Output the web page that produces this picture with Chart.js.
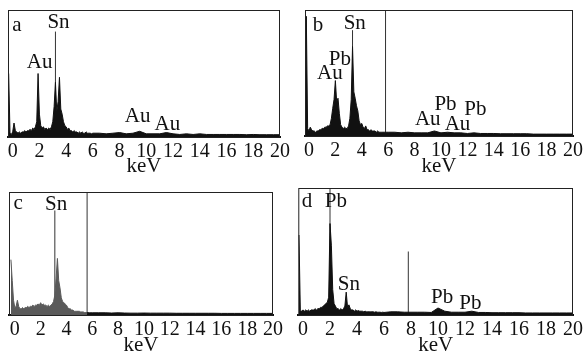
<!DOCTYPE html>
<html><head><meta charset="utf-8">
<script src="https://cdn.jsdelivr.net/npm/chart.js@4.4.0/dist/chart.umd.min.js"></script>
<style>
body{margin:0;background:#fff;width:586px;height:358px;position:relative;overflow:hidden}
canvas{position:absolute}
</style></head><body>
<canvas id="ca" width="293" height="179" style="left:0;top:0"></canvas>
<canvas id="cb" width="291" height="179" style="left:295px;top:0"></canvas>
<canvas id="cc" width="293" height="179" style="left:0;top:179px"></canvas>
<canvas id="cd" width="291" height="179" style="left:295px;top:179px"></canvas>
<script>
// energy grid (keV), shared by the four spectra
const keV=[-0.3,-0.2,-0.1,0,0.1,0.2,0.3,0.4,0.5,0.6,0.7,0.8,0.9,1,1.1,1.2,1.3,1.4,1.5,1.6,1.7,1.8,1.9,2,2.1,2.2,2.3,2.4,2.5,2.6,2.7,2.8,2.9,3,3.1,3.2,3.3,3.4,3.5,3.6,3.7,3.8,3.9,4,4.1,4.2,4.3,4.4,4.5,4.6,4.7,4.8,4.9,5,5.1,5.2,5.3,5.4,5.5,5.6,5.7,5.8,5.9,6,6.5,7,7.5,8,8.5,9,9.5,10,10.5,11,11.5,12,12.5,13,13.5,14,14.5,15,15.5,16,16.5,17,17.5,18,18.5,19,19.5,20];
const tickKeV=[0,2,4,6,8,10,12,14,16,18,20];

// counts, % of full scale
const countsA=[50,3,2, 4,11,5,4,3,4,3,4,4,5, 4,5,5,6,5,7,6,8,12,50, 18,9,7,8,6,7,6,7,6,8, 12,24,43,20,28,47,22,18,12,9, 8,6,7,5,5,4,5,4,4,3, 4,3,4,3,3,4,3,3,3,2.5, 3,
 3,2.5,3,3.5,2.5,3,4.5,2.5,2.5,2.5,3.5,2.5,2,2.5,2,2.5,2,2,2,2,2,2,1.8,2,1.8,1.8,1.8,1.8];
const countsB=[3,95,6, 4,7,5,4,4,3,4,4,5,5, 6,6,7,7,8,8,9,14,22,29, 44,27,30,18,9,7,6,7,6,6, 8,14,29,71,35,30,24,20,12,9, 10,7,6,8,5,5,4,5,4,4, 4,3,4,3,3,3,3,3,3,3, 3,
 3,2.5,3,2.5,2.5,2.5,4,2.5,3,2.5,2.5,2,2.5,2,2,2,1.8,1.8,1.8,1.8,1.8,1.5,1.5,1.5,1.5,1.5,1.5,1.5];
const countsC=[45,28,12, 6,7,12,7,5,5,6,5,6,6, 7,6,7,7,8,7,8,8,9,8, 10,8,9,8,8,7,8,7,8,9, 11,16,30,46,28,22,14,11,10,9, 8,6,5,5,4,4,3,3,3,3, 3,2.5,2.5,2.5,2,2,2,2,1.8,1.8, 1.8,
 1.8,1.8,1.6,1.8,1.6,1.5,1.5,1.6,1.5,1.5,1.5,1.5,1.4,1.4,1.4,1.4,1.4,1.4,1.4,1.3,1.3,1.3,1.3,1.3,1.3,1.3,1.3,1.3];
const countsD=[63,4,3, 4,3,4,3,4,3,4,4,4,5, 4,5,5,6,6,7,8,9,10,14, 72,55,20,9,7,5,5,4,5,4, 5,7,18,6,8,5,4,4,3,4, 3,3.5,3,3,3,2.5,3,2.5,2.5,2.5, 2.5,2.5,2.5,2.2,2.5,2.2,2.2,2.2,2,2.2, 2,
 2.5,2.5,2.2,2.2,2.2,2.2,2,5.5,3,2.2,2.2,2.2,3,2,2,1.8,1.8,1.8,1.8,1.8,1.6,1.6,1.6,1.6,1.6,1.6,1.6,1.6];

// vertical marker lines
const linesA=[3.2], linesTopA=[83];
const linesB=[3.3,5.8], linesTopB=[84,100];
const linesC=[3.1,5.6], linesTopC=[85,100];
const linesD=[2.0,7.8], linesTopD=[100,50];

// peak labels
const labA=['a','Sn','Au','Au','Au'], labXA=[0.32,3.43,2.02,9.35,11.57], labYA=[88,90,59,16,10];
const labB=['b','Sn','Pb','Au','Pb','Pb','Au','Au'], labXB=[0.68,3.47,2.34,1.58,10.34,12.6,9.0,11.25], labYB=[88,89,61,50,25,21,13,9.5];
const labC=['c','Sn'], labXC=[0.25,3.2], labYC=[91,90];
const labD=['d','Pb','Sn','Pb','Pb'], labXD=[0.3,2.44,3.4,10.3,12.4], labYD=[89,89,24,14,9];

const serif='"Liberation Serif","DejaVu Serif",serif';
const ink='#111';

const framePlugin={id:'frame',afterDatasetsDraw(c){
 const a=c.chartArea,ctx=c.ctx;ctx.save();ctx.strokeStyle='#222';ctx.lineWidth=1;
 ctx.strokeRect(a.left+0.5,a.top+0.5,a.right-a.left-1,a.bottom-a.top);ctx.restore();}};
const textPlugin={id:'txt',afterDatasetsDraw(c,args,o){
 const ctx=c.ctx,x=c.scales.x,y=c.scales.y;ctx.save();
 ctx.font='21px '+serif;ctx.fillStyle=ink;ctx.textAlign='center';ctx.textBaseline='middle';
 o.text.forEach((t,i)=>ctx.fillText(t,x.getPixelForValue(o.xs[i]),y.getPixelForValue(o.ys[i])));
 ctx.restore();}};

function panel(id,counts,lines,tops,text,xs,ys,pad,xmin,axisH,col,split){
 const pts=keV.map((x,i)=>({x:x,y:counts[i]}));
 const ds=[];
 if(split){
  ds.push({data:pts.filter(p=>p.x<=split),borderColor:col,backgroundColor:col,fill:'origin',borderWidth:1,pointRadius:0});
  ds.push({data:pts.filter(p=>p.x>=split),borderColor:'#111',backgroundColor:'#111',fill:'origin',borderWidth:1,pointRadius:0});
 } else ds.push({data:pts,borderColor:col,backgroundColor:col,fill:'origin',borderWidth:1,pointRadius:0});
 lines.forEach((l,i)=>ds.push({data:[{x:l,y:0},{x:l,y:tops[i]}],borderColor:'#333',borderWidth:1,pointRadius:0}));
 new Chart(document.getElementById(id),{type:'line',data:{datasets:ds},
  options:{responsive:false,animation:false,devicePixelRatio:1,
   layout:{padding:pad},
   plugins:{legend:{display:false},tooltip:{enabled:false},txt:{text:text,xs:xs,ys:ys}},
   elements:{line:{tension:0}},
   scales:{
    x:{type:'linear',min:xmin,max:20,
     afterBuildTicks:s=>{s.ticks=tickKeV.map(v=>({value:v}));},
     afterFit:s=>{s.height=axisH;},
     grid:{display:false,drawTicks:false,tickLength:0},border:{display:true,color:ink,width:2},
     ticks:{autoSkip:false,maxRotation:0,padding:3,color:ink,font:{family:serif,size:20}},
     title:{display:true,text:'keV',color:ink,font:{family:serif,size:21},padding:0}},
    y:{display:false,min:0,max:100}}},
  plugins:[framePlugin,textPlugin]});
}

panel('ca',countsA,linesA,linesTopA,labA,labXA,labYA,{left:8,top:10,right:10,bottom:0},-0.35,42,'#111');
panel('cb',countsB,linesB,linesTopB,labB,labXB,labYB,{left:10,top:10,right:12,bottom:0},-0.3,43,'#111');
panel('cc',countsC,linesC,linesTopC,labC,labXC,labYC,{left:9,top:13,right:20,bottom:0},-0.45,43,'#5a5a5a',5.6);
panel('cd',countsD,linesD,linesTopD,labD,labXD,labYD,{left:2,top:9,right:12,bottom:0},-0.35,43,'#111');
</script>
</body></html>
